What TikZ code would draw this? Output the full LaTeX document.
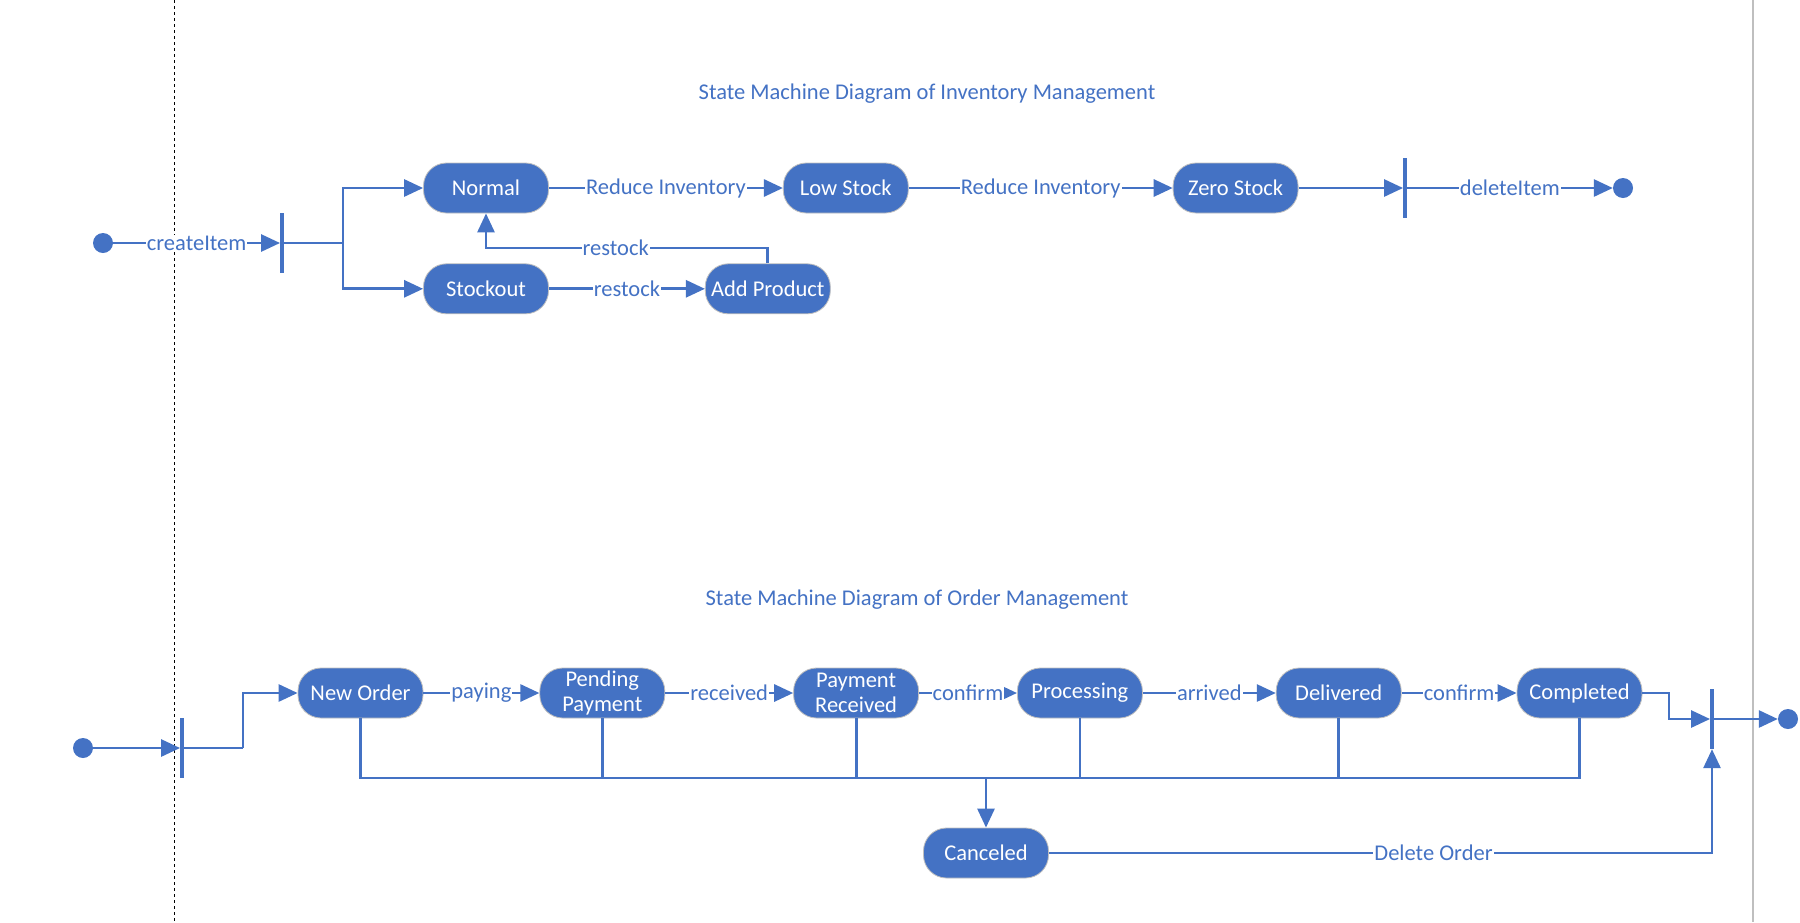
\documentclass[tikz,border=0pt]{standalone}
\usepackage{fontspec}
\setmainfont{Carlito}
\usetikzlibrary{arrows.meta, positioning}
\usepackage{xcolor}
\definecolor{umlblue}{HTML}{4472C4}

\begin{document}
\begin{tikzpicture}[x=1pt, y=-1pt,
        stateblock/.style={draw=black!25, line width=0.8pt, fill=umlblue, text=white, rounded corners=23pt, align=center, minimum height=50pt, minimum width=125pt, inner sep=1pt, font=\fontsize{22.5}{25}\selectfont},
        syncbar/.style={fill=umlblue, minimum width=3.5pt, minimum height=60pt, inner sep=0pt},
        initdot/.style={circle, fill=umlblue, minimum size=20pt, inner sep=0pt},
        arrow/.style={-{Triangle[length=19pt, width=17pt]}, line width=2.8pt, umlblue},
        wire/.style={line width=2.8pt, umlblue},
        trigger/.style={fill=white, text=umlblue, inner sep=1pt, font=\fontsize{22.5}{25}\selectfont},
        heading/.style={text=umlblue, font=\fontsize{22.5}{25}\selectfont}
    ]

        % Page and frame lines
        \fill[white] (0,0) rectangle (1800,922);
        \useasboundingbox (0,0) rectangle (1800,922);
        \draw[black, line width=1pt, dash pattern=on 3pt off 3pt] (174.5,0) -- (174.5,922);
        \draw[black!25, line width=1.2pt] (1753,0) -- (1753,922);

        % Titles
        \node[heading] (title1) at (927,94) {State Machine Diagram of Inventory Management};
        \node[heading] (title2) at (917,600) {State Machine Diagram of Order Management};

        % Inventory states
        \node[initdot] (start1) at (103,243) {};
        \node[syncbar] (fork1) at (282,243) {};
        \node[stateblock] (normal) at (486,188) {Normal};
        \node[stateblock, below=50pt of normal] (stockout) {Stockout};
        \node[stateblock, right=234pt of normal] (lowstock) {Low Stock};
        \node[stateblock, right=264pt of lowstock] (zerostock) {Zero Stock};
        \node[stateblock, right=156pt of stockout] (addprod) {Add Product};
        \node[syncbar] (join1) at (1405,188) {};
        \node[initdot] (end1) at (1623,188) {};

        % Inventory transitions
        \draw[arrow] (start1) -- node[trigger] {createItem} (fork1);
        \coordinate (split1) at (343,243);
        \draw[wire] (fork1) -- (split1);
        \draw[arrow] (split1) |- (normal);
        \draw[arrow] (split1) |- (stockout);
        \draw[arrow] (normal) -- node[trigger] {Reduce Inventory} (lowstock);
        \draw[arrow] (lowstock) -- node[trigger] {Reduce Inventory} (zerostock);
        \draw[arrow] (zerostock) -- (join1);
        \draw[arrow] (join1) -- node[trigger] {deleteItem} (end1);
        \draw[arrow] (stockout) -- node[trigger] {restock} (addprod);
        \coordinate (restockturn) at (486,248);
        \draw[arrow] (addprod.north) |- node[trigger, pos=0.77] {restock} (restockturn) -- (normal.south);

        % Order states
        \node[initdot] (start2) at (83,748) {};
        \node[syncbar] (fork2) at (182,748) {};
        \node[stateblock] (neworder) at (360.5,693) {New Order};
        \node[stateblock, right=116pt of neworder] (pending) {Pending\\Payment};
        \node[stateblock, right=128pt of pending] (payrecv) {Payment\\Received};
        \node[stateblock, right=98pt of payrecv] (processing) {Processing};
        \node[stateblock, right=133pt of processing] (delivered) {Delivered};
        \node[stateblock, right=115pt of delivered] (completed) {Completed};
        \node[stateblock] (canceled) at (986,853) {Canceled};
        \node[syncbar] (join2) at (1712,719) {};
        \node[initdot] (end2) at (1788,719) {};

        % Order transitions
        \draw[arrow] (start2) -- (fork2);
        \coordinate (split2) at (243,748);
        \draw[wire] (fork2) -- (split2);
        \draw[arrow] (split2) |- (neworder);
        \draw[arrow] (neworder) -- node[trigger] {paying} (pending);
        \draw[arrow] (pending) -- node[trigger] {received} (payrecv);
        \draw[arrow] (payrecv) -- node[trigger] {confirm} (processing);
        \draw[arrow] (processing) -- node[trigger] {arrived} (delivered);
        \draw[arrow] (delivered) -- node[trigger] {confirm} (completed);

        % Cancel bus
        \coordinate (bus) at (0,778);
        \draw[wire] (neworder.south) -- (neworder.south |- bus) -- (completed.south |- bus) -- (completed.south);
        \draw[wire] (pending.south) -- (pending.south |- bus);
        \draw[wire] (payrecv.south) -- (payrecv.south |- bus);
        \draw[wire] (processing.south) -- (processing.south |- bus);
        \draw[wire] (delivered.south) -- (delivered.south |- bus);
        \draw[arrow] (canceled.north |- bus) -- (canceled.north);

        % Final join
        \coordinate (endturn) at (1669,719);
        \draw[arrow] (completed.east) -| (endturn) -- (join2);
        \draw[arrow] (join2) -- (end2);
        \draw[arrow] (canceled) -| node[trigger, pos=0.29] {Delete Order} (join2.south);

    \end{tikzpicture}
\end{document}
